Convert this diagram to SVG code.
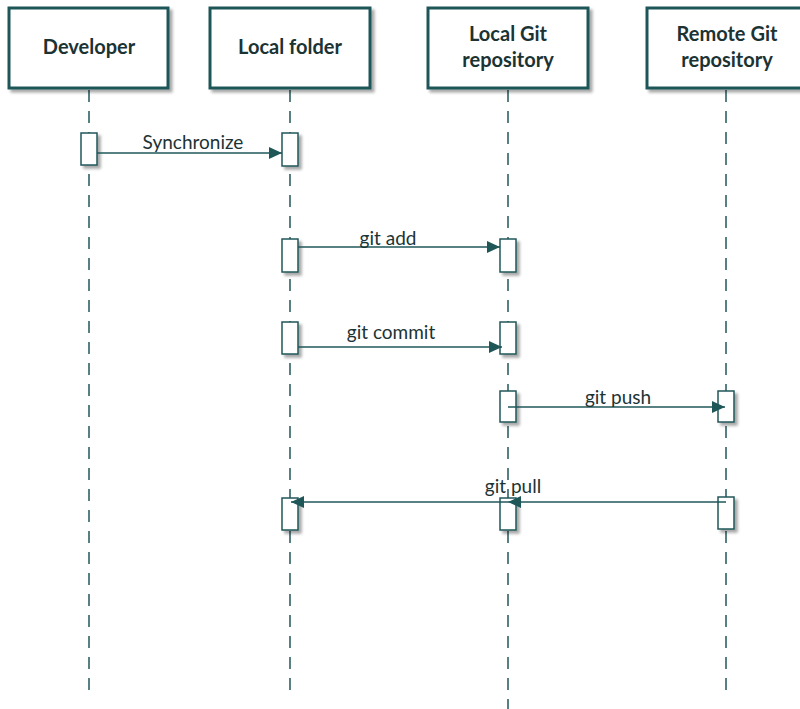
<svg xmlns="http://www.w3.org/2000/svg" width="800" height="709" viewBox="0 0 800 709">
<defs>
<filter id="sh" x="-20%" y="-20%" width="150%" height="150%">
<feGaussianBlur in="SourceAlpha" stdDeviation="1.5"/>
<feOffset dx="2.5" dy="2.5" result="b"/>
<feComponentTransfer><feFuncA type="linear" slope="0.35"/></feComponentTransfer>
<feMerge><feMergeNode/><feMergeNode in="SourceGraphic"/></feMerge>
</filter>
<marker id="ah" viewBox="0 0 13 12" refX="13" refY="6" markerWidth="13" markerHeight="12" markerUnits="userSpaceOnUse" orient="auto">
<path d="M0,0 L13,6 L0,12 Z" fill="#1f5759"/>
</marker>
</defs>
<style>
.box{fill:#fff;stroke:#1f5759;stroke-width:3}
.hd{font-family:Lato,"Liberation Sans",sans-serif;font-weight:bold;font-size:20px;fill:#1c3334;text-anchor:middle}
.life{stroke:#1f5759;stroke-width:1.5;stroke-dasharray:12 9;fill:none}
.act{fill:#fff;stroke:#1f5759;stroke-width:1.5}
.msg{stroke:#1f5759;stroke-width:1.5;fill:none;marker-end:url(#ah)}
.lbl{font-family:Lato,"Liberation Sans",sans-serif;font-size:19px;fill:#1c3334;text-anchor:middle}
</style>
<rect width="800" height="709" fill="#fff"/>
<g id="lifelines">
<line class="life" x1="89" y1="90" x2="89" y2="695"/>
<line class="life" x1="290" y1="90" x2="290" y2="695"/>
<line class="life" x1="508" y1="90" x2="508" y2="709"/>
<line class="life" x1="726" y1="90" x2="726" y2="697"/>
</g>
<g id="developer"><rect class="box" x="9" y="8" width="159" height="80" filter="url(#sh)"/><text class="hd" x="89" y="54">Developer</text></g>
<g id="local-folder"><rect class="box" x="210" y="8" width="160" height="80" filter="url(#sh)"/><text class="hd" x="290" y="54">Local folder</text></g>
<g id="local-git"><rect class="box" x="428" y="8" width="160" height="80" filter="url(#sh)"/><text class="hd" x="508" y="41">Local Git</text><text class="hd" x="508" y="67">repository</text></g>
<g id="remote-git"><rect class="box" x="647" y="8" width="160" height="80" filter="url(#sh)"/><text class="hd" x="727" y="41">Remote Git</text><text class="hd" x="727" y="67">repository</text></g>
<g id="activations" filter="url(#sh)">
<rect class="act" x="81" y="133" width="16" height="32"/>
<rect class="act" x="282" y="133" width="16" height="33"/>
<rect class="act" x="282" y="239" width="16" height="33"/>
<rect class="act" x="500" y="239" width="16" height="33"/>
<rect class="act" x="282" y="322" width="16" height="32"/>
<rect class="act" x="500" y="322" width="16" height="32"/>
<rect class="act" x="500" y="391" width="16" height="31"/>
<rect class="act" x="718" y="391" width="16" height="31"/>
<rect class="act" x="282" y="498" width="16" height="32"/>
<rect class="act" x="500" y="498" width="16" height="32"/>
<rect class="act" x="718" y="497" width="16" height="32"/>
</g>
<g id="connectors">
<line class="msg" x1="97" y1="153" x2="282" y2="153"/>
<text class="lbl" x="193" y="149">Synchronize</text>
<line class="msg" x1="298" y1="247" x2="500" y2="247"/>
<text class="lbl" x="388" y="245">git add</text>
<line class="msg" x1="298" y1="347" x2="502" y2="347"/>
<text class="lbl" x="391" y="339">git commit</text>
<line class="msg" x1="508" y1="407" x2="725" y2="407"/>
<text class="lbl" x="618" y="404">git push</text>
<line class="msg" x1="726" y1="502" x2="508" y2="502"/>
<line class="msg" x1="508" y1="502" x2="291" y2="502"/>
<text class="lbl" x="513" y="493">git pull</text>
</g>
</svg>
